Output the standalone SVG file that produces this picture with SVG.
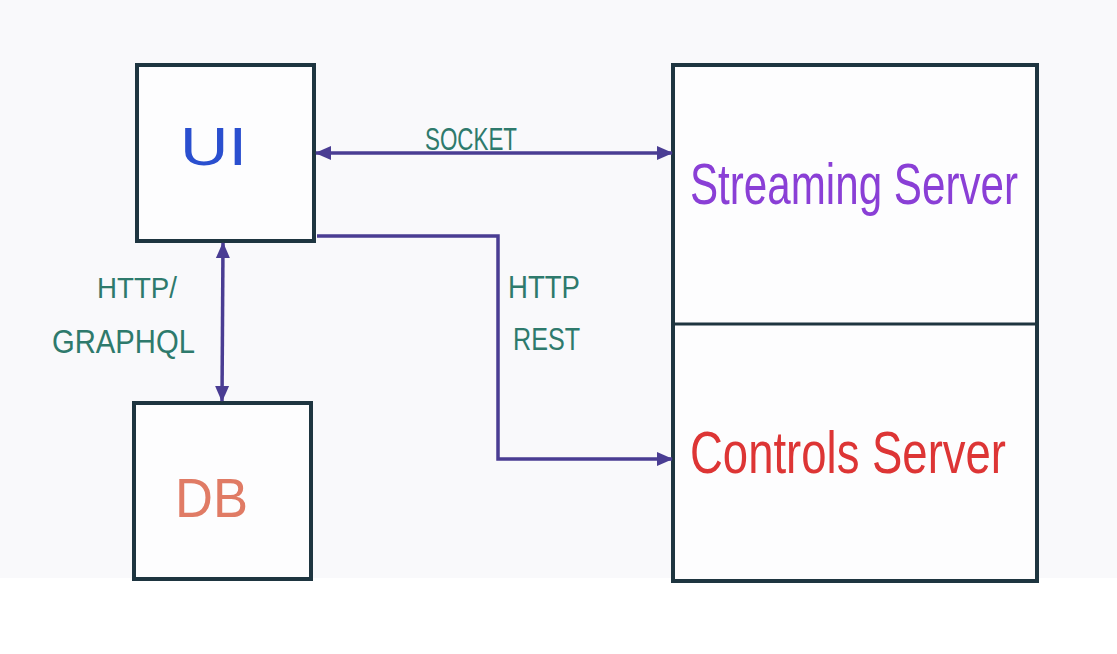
<svg xmlns="http://www.w3.org/2000/svg" width="1117" height="654" viewBox="0 0 1117 654">
<defs>
<marker id="ah" markerUnits="userSpaceOnUse" markerWidth="16" markerHeight="16" viewBox="0 0 16 16" refX="15" refY="8" orient="auto-start-reverse">
<path d="M0,1 L16,8 L0,15 Z" fill="#4a3d93"/>
</marker>
<style>
.box{fill:#fdfdfe;stroke:#1e3540;stroke-width:4}
.edge{fill:none;stroke:#4a3d93;stroke-width:3.5}
.lbl{font-family:"Liberation Sans",Arial,sans-serif;fill:#2e7a6c}
.t{font-family:"Liberation Sans",Arial,sans-serif}
</style>
</defs>
<rect x="0" y="0" width="1117" height="654" fill="#ffffff"/>
<rect x="0" y="0" width="1117" height="578" fill="#f9f9fb"/>
<g id="ui">
<rect class="box" x="137" y="65" width="177" height="176"/>
<text class="t" x="180" y="165" fill="#2a4fcf" textLength="67" lengthAdjust="spacingAndGlyphs" font-size="54">UI</text>
</g>
<g id="db">
<rect class="box" x="134" y="403" width="177" height="176"/>
<text class="t" x="175" y="517" fill="#e07b65" textLength="73" lengthAdjust="spacingAndGlyphs" font-size="55">DB</text>
</g>
<g id="servers">
<rect class="box" x="673" y="65" width="364" height="516"/>
<line x1="673" y1="324" x2="1037" y2="324" stroke="#1e3540" stroke-width="3"/>
<text class="t" x="690" y="0" transform="translate(0,204) scale(1,1.35)" fill="#8a3fd6" textLength="328" lengthAdjust="spacingAndGlyphs" font-size="42">Streaming Server</text>
<text class="t" x="690" y="0" transform="translate(0,473) scale(1,1.35)" fill="#dd3535" textLength="316" lengthAdjust="spacingAndGlyphs" font-size="44">Controls Server</text>
</g>
<g id="connectors">
<line class="edge" x1="316" y1="153" x2="672" y2="153" marker-start="url(#ah)" marker-end="url(#ah)"/>
<line class="edge" x1="223" y1="243" x2="222" y2="401" marker-start="url(#ah)" marker-end="url(#ah)"/>
<polyline class="edge" points="317,236 498,236 498,459 672,459" marker-end="url(#ah)"/>
<text class="lbl" x="425" y="150" textLength="92" lengthAdjust="spacingAndGlyphs" font-size="31">SOCKET</text>
<text class="lbl" x="97" y="298" textLength="80" lengthAdjust="spacingAndGlyphs" font-size="30">HTTP/</text>
<text class="lbl" x="52" y="353" textLength="143" lengthAdjust="spacingAndGlyphs" font-size="33">GRAPHQL</text>
<text class="lbl" x="508" y="298" textLength="72" lengthAdjust="spacingAndGlyphs" font-size="32">HTTP</text>
<text class="lbl" x="513" y="350" textLength="67" lengthAdjust="spacingAndGlyphs" font-size="32">REST</text>
</g>
</svg>
